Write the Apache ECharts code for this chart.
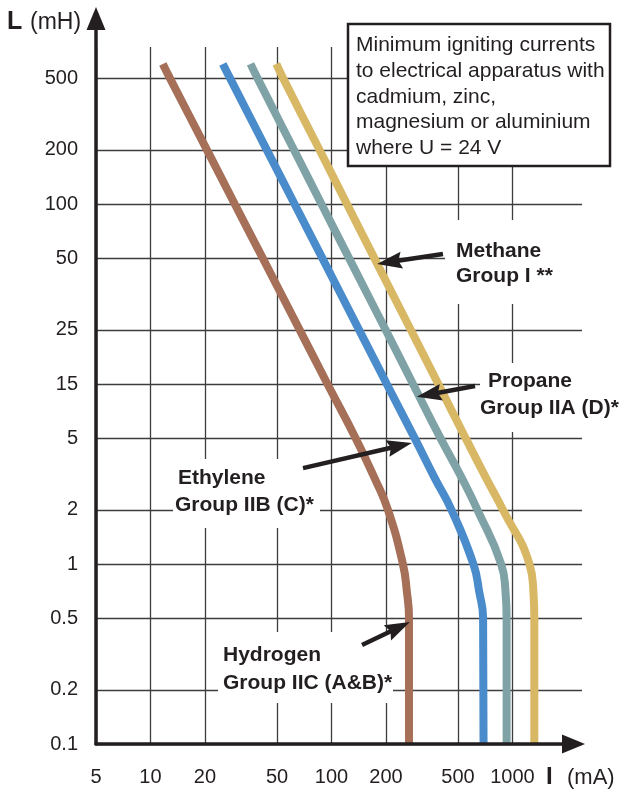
<!DOCTYPE html>
<html>
<head>
<meta charset="utf-8">
<script src="https://cdn.jsdelivr.net/npm/echarts@6/dist/echarts.min.js"></script>
<style>
  html, body { margin: 0; padding: 0; background: #fff; }
  #chart { width: 623px; height: 794px; }
</style>
</head>
<body>
<div id="chart"></div>
<script>
// inductance levels (mH) shared by all curves, top to bottom
var inductance = [600, 500, 200, 100, 50, 20, 10, 5, 3, 2, 1, 0.7, 0.5, 0.1];
// minimum igniting current (mA) at each inductance level
var hydrogen = [11.7, 12.8, 20.5, 29.2, 41.7, 66.7, 95, 136, 173, 205, 248, 261, 268, 268];
var ethylene = [25.1, 27.5, 43.9, 62.5, 89, 142, 202, 288, 372, 460, 608, 655, 688, 692];
var propane = [35.7, 39, 62, 88, 125, 199, 282, 400, 525, 640, 865, 915, 928, 928];
var methane = [49.6, 54, 85.8, 121.7, 172.5, 274, 389, 551, 715, 885, 1240, 1305, 1320, 1320];

var xTicks = [5, 10, 20, 50, 100, 200, 500, 1000];
var xTickLabels = ['5', '10', '20', '50', '100', '200', '500', '1000'];
var yTicks = [0.1, 0.2, 0.5, 1, 2, 5, 10, 20, 50, 100, 200, 500];
var yTickLabels = ['0.1', '0.2', '0.5', '1', '2', '5', '15', '25', '50', '100', '200', '500'];

// pointer arrows [tail, head] in [mA, mH]
var arrowMethane = [[413, 52.8], [209, 47.6]];
var arrowPropane = [[621, 9.75], [346, 8.74]];
var arrowEthylene = [[69.6, 3.41], [238, 4.54]];
var arrowHydrogen = [[147.5, 0.355], [235, 0.444]];

var FONT = "'Liberation Sans', Arial, sans-serif";
var INK = '#231f20';
var HEAD = 'path://M8.5,0L17,25L8.5,21.5L0,25Z';

function tickLabel(ticks, labels) {
    return function (v) {
        for (var i = 0; i < ticks.length; i++) {
            if (Math.abs(v - ticks[i]) / ticks[i] < 1e-6) return labels[i];
        }
        return '';
    };
}

function curve(name, currents, color, arrow) {
    return {
        name: name,
        type: 'line',
        xAxisIndex: 0,
        yAxisIndex: 0,
        data: currents.map(function (c, i) { return [c, inductance[i]]; }),
        symbol: 'none',
        smooth: 0.5,
        lineStyle: { color: color, width: 8, cap: 'butt' },
        markLine: {
            silent: true,
            symbol: ['none', HEAD],
            symbolSize: 25,
            symbolKeepAspect: true,
            label: { show: false },
            lineStyle: { color: INK, width: 4.5, type: 'solid' },
            itemStyle: { color: INK },
            data: [[{ coord: arrow[0] }, { coord: arrow[1], symbolKeepAspect: true }]]
        }
    };
}

function txt(x, y, text, size, bold) {
    return {
        type: 'text', z: 4,
        style: {
            x: x, y: y, text: text,
            font: (bold ? 'bold ' : '') + size + 'px ' + FONT,
            fill: INK, textAlign: 'left', textVerticalAlign: 'middle'
        }
    };
}

function blank(x, y, w, h) {
    return { type: 'rect', z: 1, shape: { x: x, y: y, width: w, height: h }, style: { fill: '#fff' } };
}

var chart = echarts.init(document.getElementById('chart'));
var option = {
    animation: false,
    backgroundColor: '#fff',
    grid: [
        { left: 96, top: 47, right: 41, bottom: 50 },
        { left: 96, top: 18.5, right: 49.5, bottom: 50 }
    ],
    xAxis: [
        {
            type: 'log', gridIndex: 0, min: 5, max: 2421,
            axisLine: { show: false },
            axisTick: { show: false, customValues: xTicks },
            axisLabel: {
                customValues: xTicks, formatter: tickLabel(xTicks, xTickLabels),
                fontSize: 20, fontFamily: FONT, color: INK, margin: 23
            },
            splitLine: { show: true, lineStyle: { color: '#3d3d3d', width: 1.3 } }
        },
        {
            type: 'value', gridIndex: 1, min: 0, max: 1, z: 5,
            axisLine: { show: true, onZero: false, symbol: ['none', 'triangle'], symbolSize: [19, 23],
                lineStyle: { color: INK, width: 3.5 } },
            axisTick: { show: false }, axisLabel: { show: false }, splitLine: { show: false }
        }
    ],
    yAxis: [
        {
            type: 'log', gridIndex: 0, min: 0.1, max: 745,
            axisLine: { show: false },
            axisTick: { show: false, customValues: yTicks },
            axisLabel: {
                customValues: yTicks, formatter: tickLabel(yTicks, yTickLabels),
                fontSize: 20, fontFamily: FONT, color: INK, margin: 18
            },
            splitLine: { show: true, lineStyle: { color: '#3d3d3d', width: 1.3 } }
        },
        {
            type: 'value', gridIndex: 1, min: 0, max: 1, z: 5,
            axisLine: { show: true, onZero: false, symbol: ['none', 'triangle'], symbolSize: [19, 23],
                lineStyle: { color: INK, width: 3.5 } },
            axisTick: { show: false }, axisLabel: { show: false }, splitLine: { show: false }
        }
    ],
    series: [
        curve('Hydrogen', hydrogen, '#a66f57', arrowHydrogen),
        curve('Ethylene', ethylene, '#4a8bcb', arrowEthylene),
        curve('Propane', propane, '#7fa2a7', arrowPropane),
        curve('Methane', methane, '#d9b865', arrowMethane)
    ],
    graphic: [
        // white patches behind the gas labels
        blank(173, 459, 147, 69),
        blank(218, 632, 175, 71),
        blank(445, 220, 137, 84),
        blank(480, 363, 102, 69),
        // note box
        { type: 'rect', z: 1, shape: { x: 348, y: 24, width: 262, height: 142 },
          style: { fill: '#fff', stroke: INK, lineWidth: 2.5 } },
        txt(356, 45, 'Minimum igniting currents', 21, false),
        txt(356, 71, 'to electrical apparatus with', 21, false),
        txt(356, 97, 'cadmium, zinc,', 21, false),
        txt(356, 122, 'magnesium or aluminium', 21, false),
        txt(356, 148, 'where U = 24 V', 21, false),
        // gas labels
        txt(456, 251, 'Methane', 21, true),
        txt(456, 276, 'Group I **', 21, true),
        txt(488, 381, 'Propane', 21, true),
        txt(480, 408, 'Group IIA (D)*', 21, true),
        txt(178, 478, 'Ethylene', 21, true),
        txt(175, 505, 'Group IIB (C)*', 21, true),
        txt(223, 655, 'Hydrogen', 21, true),
        txt(223, 683, 'Group IIC (A&B)*', 21, true),
        // axis titles
        txt(7, 22, 'L', 25, true),
        txt(30, 23, '(mH)', 23, false),
        txt(546, 777, 'I', 24, true),
        txt(567, 778, '(mA)', 22, false)
    ]
};
chart.setOption(option);
</script>
</body>
</html>
